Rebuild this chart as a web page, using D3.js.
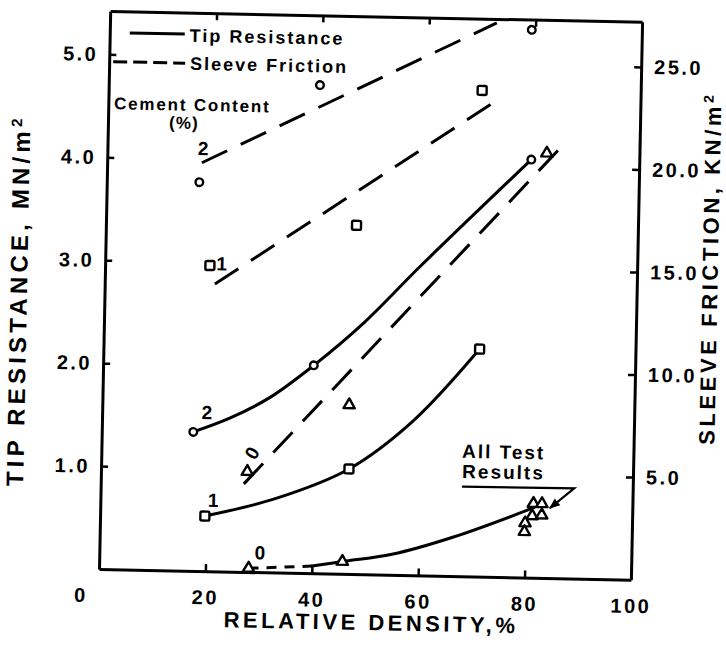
<!DOCTYPE html>
<html>
<head>
<meta charset="utf-8">
<script src="https://cdn.jsdelivr.net/npm/d3@7"></script>
<style>
  html, body { margin: 0; padding: 0; background: #fff; }
  svg { display: block; }
  text { font-family: "Liberation Sans", Arial, sans-serif; font-weight: bold; fill: #000; }
</style>
</head>
<body>
<svg id="chart" width="726" height="647"></svg>
<script>
// ---------------- DATA ----------------
const xTicks = [0, 20, 40, 60, 80, 100];
const tipTicks = [1, 2, 3, 4, 5];
const sleeveTicks = [5, 10, 15, 20, 25];

// Tip resistance (MN/m2) measured points
const tip2Points = [[17.2, 1.35], [39.6, 2.02], [79.7, 4.06]];
const tip1Points = [[19.7, 0.535], [46.6, 1.02], [70.7, 2.21]];
const tip0Points = [[28.1, 0.036], [45.7, 0.12]];
const allTestPoints = [[81.4, 0.72], [83.0, 0.72], [81.2, 0.60], [83.0, 0.61], [79.9, 0.53], [79.8, 0.445]];

// Tip resistance fitted curves
const tip2Curve = [[17.2, 1.35], [24, 1.49], [31.5, 1.70], [39.6, 2.02], [49, 2.45], [59.2, 3.0], [79.7, 4.06]];
const tip1Curve = [[19.7, 0.535], [33, 0.72], [46.6, 1.02], [58.5, 1.5], [70.7, 2.21]];
const tip0Dashed = [[28.1, 0.036], [40, 0.07]];
const tip0Curve = [[40, 0.07], [45.7, 0.12], [55, 0.2], [66.5, 0.38], [81.5, 0.68]];

// Sleeve friction (kN/m2) measured points
const sleeve2Points = [[17.4, 18.95], [39.7, 23.8], [79.3, 26.7]];
const sleeve1Points = [[19.7, 14.9], [47.1, 17.0], [70.2, 23.7]];
const sleeve0Points = [[27.5, 4.89], [46.4, 8.24], [82.6, 20.7]];

// Sleeve friction fitted lines
const sleeve2Line = [[17.8, 19.9], [72.7, 27.0]];
const sleeve1Line = [[20.7, 14.0], [73.4, 23.3]];
const sleeve0Line = [[26.9, 4.29], [85.9, 21.2]];

// Annotation "All Test Results" leader (x, tip)
const leaderLine = [[67.9, 0.87], [89.0, 0.876], [84.5, 0.68]];

// Curve labels: [x, value, text, axis]
const curveLabels = [
  [19.7, 1.54, "2", "tip"],
  [21.2, 0.69, "1", "tip"],
  [30.2, 0.19, "0", "tip"],
  [18.0, 20.6, "2", "sleeve"],
  [21.9, 15.0, "1", "sleeve"]
];
const sleeve0Label = [28.3, 5.8, "0"];
const allTestLabel = [[67.8, 1.15, "All Test"], [67.9, 0.955, "Results"]];

// ---------------- LAYOUT ----------------
const W = 532, H = 558;
const svg = d3.select("#chart");
const g = svg.append("g")
  .attr("transform", "translate(99,569) rotate(1.15) translate(0,-558)");

const x = d3.scaleLinear().domain([0, 100]).range([0, W]);
const yTip = d3.scaleLinear().domain([0, 5.42]).range([H, 0]);
const ySl = d3.scaleLinear().domain([0, 27.2]).range([H, 0]);

function styleAxis(sel) {
  sel.select(".domain").attr("stroke", "#000").attr("stroke-width", 3);
  sel.selectAll(".tick line").attr("stroke", "#000").attr("stroke-width", 2.5);
  sel.selectAll(".tick text")
    .style("font-family", '"Liberation Sans", Arial, sans-serif')
    .style("font-weight", "bold").style("font-size", "20px")
    .style("letter-spacing", "2.5px").attr("fill", "#000");
}

// bottom axis
const xAxisG = g.append("g").attr("transform", `translate(0,${H})`)
  .call(d3.axisBottom(x).tickValues(xTicks).tickSizeInner(-7).tickSizeOuter(0).tickPadding(19).tickFormat(d3.format("d")));
styleAxis(xAxisG);
xAxisG.selectAll(".tick").filter(d => d === 0 || d === 100).select("line").remove();
xAxisG.selectAll(".tick").filter(d => d === 0).select("text").attr("dx", -18);

// top axis
const topG = g.append("g")
  .call(d3.axisTop(x).tickValues([20, 40, 60, 80]).tickSizeInner(-7).tickSizeOuter(0).tickFormat(""));
styleAxis(topG);

// left axis
const yAxisG = g.append("g")
  .call(d3.axisLeft(yTip).tickValues(tipTicks).tickSizeInner(-7).tickSizeOuter(0).tickPadding(11).tickFormat(d3.format(".1f")));
styleAxis(yAxisG);

// right axis
const rAxisG = g.append("g").attr("transform", `translate(${W},0)`)
  .call(d3.axisRight(ySl).tickValues(sleeveTicks).tickSizeInner(-7).tickSizeOuter(0).tickPadding(13).tickFormat(d3.format(".1f")));
styleAxis(rAxisG);

// axis titles
const lt = g.append("text").attr("transform", `translate(-86,291) rotate(-90)`)
  .attr("text-anchor", "middle").attr("dy", "0.35em")
  .style("font-size", "24px").style("letter-spacing", "4.2px");
lt.append("tspan").text("TIP RESISTANCE, MN/m");
lt.append("tspan").attr("dy", "-0.55em").style("font-size", "15px").text("2");

const rt = g.append("text").attr("transform", `translate(605,245) rotate(-90)`)
  .attr("text-anchor", "middle").attr("dy", "0.35em")
  .style("font-size", "22px").style("letter-spacing", "3.6px");
rt.append("tspan").text("SLEEVE FRICTION, KN/m");
rt.append("tspan").attr("dy", "-0.55em").style("font-size", "14px").text("2");

g.append("text").attr("x", 273).attr("y", 606).attr("dy", "0.35em")
  .attr("text-anchor", "middle").style("font-size", "22px").style("letter-spacing", "3.5px")
  .text("RELATIVE DENSITY,%");

// ---------------- LINES ----------------
const pt = (ys) => d3.line().x(d => x(d[0])).y(d => ys(d[1]));
const curve = (ys) => d3.line().x(d => x(d[0])).y(d => ys(d[1])).curve(d3.curveCatmullRom.alpha(0.5));

const lines = g.append("g").attr("fill", "none").attr("stroke", "#000").attr("stroke-width", 3).attr("stroke-linecap", "round");
lines.append("path").attr("d", curve(yTip)(tip2Curve));
lines.append("path").attr("d", curve(yTip)(tip1Curve));
lines.append("path").attr("d", curve(yTip)(tip0Curve));
lines.append("path").attr("d", pt(yTip)(tip0Dashed)).attr("stroke-dasharray", "10,8").attr("stroke-linecap", "butt");

const dash = "28,15";
lines.append("path").attr("d", pt(ySl)(sleeve2Line)).attr("stroke-dasharray", dash).attr("stroke-linecap", "butt");
lines.append("path").attr("d", pt(ySl)(sleeve1Line)).attr("stroke-dasharray", dash).attr("stroke-linecap", "butt");
lines.append("path").attr("d", pt(ySl)(sleeve0Line)).attr("stroke-dasharray", dash).attr("stroke-linecap", "butt");

// leader with arrow
svg.append("defs").append("marker").attr("id", "arr")
  .attr("viewBox", "0 0 10 10").attr("refX", 9).attr("refY", 5)
  .attr("markerWidth", 5).attr("markerHeight", 5).attr("orient", "auto")
  .append("path").attr("d", "M0,1 L10,5 L0,9 Z").attr("fill", "#000");
g.append("path").attr("d", pt(yTip)(leaderLine)).attr("fill", "none")
  .attr("stroke", "#000").attr("stroke-width", 2.2).attr("marker-end", "url(#arr)");

// ---------------- MARKERS ----------------
const mk = g.append("g").attr("fill", "#fff").attr("stroke", "#000").attr("stroke-width", 2.4);
function circles(data, ys) {
  mk.selectAll(null).data(data).enter().append("circle")
    .attr("cx", d => x(d[0])).attr("cy", d => ys(d[1])).attr("r", 3.8);
}
function squares(data, ys) {
  mk.selectAll(null).data(data).enter().append("rect")
    .attr("x", d => x(d[0]) - 4.5).attr("y", d => ys(d[1]) - 4.5)
    .attr("width", 9).attr("height", 9).attr("rx", 1.5);
}
const tri = d3.symbol().type(d3.symbolTriangle).size(55);
function triangles(data, ys) {
  mk.selectAll(null).data(data).enter().append("path")
    .attr("transform", d => `translate(${x(d[0])},${ys(d[1])})`).attr("d", tri)
    .attr("stroke-linejoin", "round");
}
circles(tip2Points, yTip);
squares(tip1Points, yTip);
triangles(tip0Points, yTip);
triangles(allTestPoints, yTip);
circles(sleeve2Points, ySl);
squares(sleeve1Points, ySl);
triangles(sleeve0Points, ySl);

// ---------------- LABELS ----------------
curveLabels.forEach(d => {
  const ys = d[3] === "tip" ? yTip : ySl;
  g.append("text").attr("x", x(d[0])).attr("y", ys(d[1])).attr("dy", "0.35em")
    .attr("text-anchor", "middle").style("font-size", "19px").text(d[2]);
});
g.append("text")
  .attr("transform", `translate(${x(sleeve0Label[0])},${ySl(sleeve0Label[1])}) rotate(-60)`)
  .attr("dy", "0.35em").attr("text-anchor", "middle").style("font-size", "19px").text(sleeve0Label[2]);

allTestLabel.forEach(d => {
  g.append("text").attr("x", x(d[0])).attr("y", yTip(d[1]))
    .style("font-size", "19px").style("letter-spacing", "2px").text(d[2]);
});

// Legend
const legend = [
  { label: "Tip Resistance", x1: 20, x2: 75, ly: 21.5, tx: 80, ty: 29, dash: null },
  { label: "Sleeve Friction", x1: 4, x2: 76, ly: 50.5, tx: 81, ty: 57, dash: "14,6" }
];
legend.forEach(l => {
  g.append("line").attr("x1", l.x1).attr("x2", l.x2).attr("y1", l.ly).attr("y2", l.ly)
    .attr("stroke", "#000").attr("stroke-width", 3).attr("stroke-dasharray", l.dash);
  g.append("text").attr("x", l.tx).attr("y", l.ty).style("font-size", "18px")
    .style("letter-spacing", "2px").text(l.label);
});
g.append("text").attr("x", 84).attr("y", 98).attr("text-anchor", "middle")
  .style("font-size", "17px").style("letter-spacing", "1.8px").text("Cement Content");
g.append("text").attr("x", 76).attr("y", 116).attr("text-anchor", "middle")
  .style("font-size", "17px").style("letter-spacing", "1px").text("(%)");
</script>
</body>
</html>
